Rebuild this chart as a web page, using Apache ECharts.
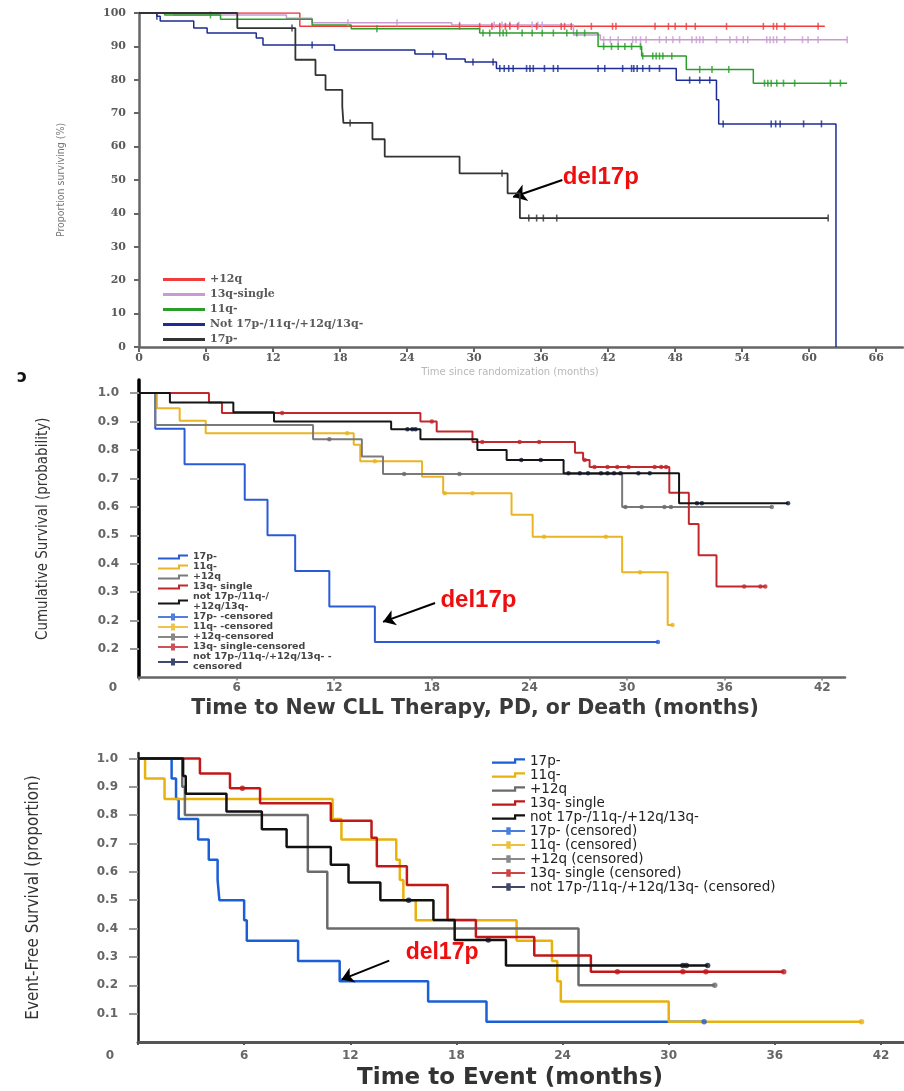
<!DOCTYPE html>
<html>
<head>
<meta charset="utf-8">
<script src="https://cdn.jsdelivr.net/npm/echarts@6/dist/echarts.min.js"></script>
<style>html,body{margin:0;padding:0;background:#fff}#c{width:904px;height:1091px}</style>
</head>
<body>
<div id="c"></div>
<script>
// ---------------- Panel A: overall survival (%) ----------------
const A_X_TICKS = [0, 6, 12, 18, 24, 30, 36, 42, 48, 54, 60, 66];
const A_Y_TICKS = [0, 10, 20, 30, 40, 50, 60, 70, 80, 90, 100];
const A_NAMES = ['+12q', '13q-single', '11q-', 'Not 17p-/11q-/+12q/13q-', '17p-'];
const A_12Q = [[0, 100], [14.4, 96], [61.4, 96]];
const A_13Q = [[0, 100], [3.1, 99.4], [13.2, 98.4], [15.5, 97.1], [28, 96.4], [38.9, 93.4], [41.3, 92], [63.4, 92]];
const A_11Q = [[0, 100], [2.3, 99.4], [7.3, 98.1], [15.5, 96.4], [19, 95.3], [30.5, 94], [41.1, 90], [45, 87.1], [49, 83.1], [55, 79], [63.4, 79]];
const A_NOT = [[0, 100], [1.6, 99], [1.9, 97.6], [4.9, 95.5], [6.1, 94], [10.5, 92.5], [11.1, 90.4], [17.5, 88.9], [24.7, 87.7], [27.5, 86.2], [29.2, 85.3], [32, 83.4], [48.1, 79.9], [51.7, 74], [51.9, 66.8], [62.4, 0]];
const A_17P = [[0, 100], [8.8, 95.5], [14, 86], [15.8, 81.4], [16.7, 77], [18.2, 72], [18.3, 67.1], [20.9, 62.2], [22, 57], [28.7, 52], [33, 46], [34.1, 38.6], [61.7, 38.6]];
const A_12Q_CENS = [28.7, 30.5, 31.6, 32.3, 32.8, 33.2, 33.9, 35.6, 37.8, 38.1, 38.7, 40.5, 42.4, 42.7, 46.2, 47.4, 48.0, 49.0, 49.8, 52.6, 55.9, 56.8, 57.1, 57.8, 60.8];
const A_13Q_CENS = [18.7, 23.1, 28.7, 31.8, 32.5, 33.2, 34.0, 35.2, 35.7, 36.1, 41.6, 42.2, 42.9, 44.2, 44.5, 44.9, 45.4, 46.6, 47.2, 47.8, 48.4, 49.5, 49.9, 50.2, 50.5, 51.7, 52.9, 53.5, 54.1, 54.5, 56.2, 56.5, 56.8, 57.1, 57.8, 59.4, 59.9, 60.8, 63.4];
const A_11Q_CENS = [6.4, 21.3, 30.8, 31.4, 32.3, 32.6, 32.9, 34.3, 35.2, 36.1, 37.1, 38.3, 39.2, 39.9, 41.6, 42.3, 42.9, 43.5, 44.1, 44.9, 45.1, 46.0, 46.3, 46.6, 46.9, 47.7, 50.2, 51.3, 52.8, 56.0, 56.3, 56.6, 57.1, 57.7, 58.7, 61.9, 62.8];
const A_NOT_CENS = [1.6, 15.5, 26.3, 29.9, 31.7, 32.3, 32.7, 33.1, 33.5, 34.7, 35.0, 35.3, 36.3, 37.1, 37.5, 41.1, 41.7, 43.3, 44.1, 44.3, 44.6, 45.1, 45.7, 46.6, 49.3, 50.2, 51.1, 52.3, 56.6, 57.0, 57.4, 59.5, 61.1];
const A_17P_CENS = [13.7, 18.9, 32.5, 34.9, 35.6, 36.2, 37.4, 61.7];
const A_ARROW = [[37.9, 50.0], [33.5, 44.9]];
const A_LABEL = [37.9, 50.9];

// ---------------- Panel B: cumulative survival ----------------
const B_X_TICKS = [0, 6, 12, 18, 24, 30, 36, 42];
const B_Y_TICKS = [0.1, 0.2, 0.3, 0.4, 0.5, 0.6, 0.7, 0.8, 0.9, 1.0];
const B_Y_LABELS = ['', '0.2', '0.2', '0.3', '0.4', '0.5', '0.6', '0.7', '0.8', '0.9', '1.0'];
const B_NAMES = ['17p-', '11q-', '+12q', '13q- single', 'not 17p-/11q-/\n+12q/13q-'];
const B_CENS_NAMES = ['17p- -censored', '11q- -censored', '+12q-censored', '13q- single-censored', 'not 17p-/11q-/+12q/13q- -\ncensored'];
const B_17P = [[0, 1], [1.0, 0.875], [2.8, 0.75], [6.5, 0.625], [7.9, 0.5], [9.6, 0.375], [11.7, 0.25], [14.5, 0.125], [31.9, 0.125]];
const B_11Q = [[0, 1], [1.1, 0.947], [2.5, 0.903], [4.1, 0.859], [13.2, 0.818], [13.6, 0.76], [17.4, 0.706], [18.7, 0.648], [22.9, 0.572], [24.2, 0.495], [29.7, 0.37], [32.5, 0.185], [32.8, 0.185]];
const B_12Q = [[0, 1], [1.0, 0.888], [10.7, 0.838], [13.7, 0.777], [15.0, 0.716], [29.7, 0.60], [38.9, 0.60]];
const B_13Q = [[0, 1], [4.3, 0.967], [5.1, 0.93], [17.3, 0.90], [18.3, 0.865], [20.5, 0.828], [26.8, 0.79], [27.3, 0.765], [27.7, 0.74], [32.6, 0.65], [33.8, 0.54], [34.4, 0.43], [35.5, 0.32], [38.5, 0.32]];
const B_NOT = [[0, 1], [1.9, 0.967], [5.8, 0.933], [8.3, 0.90], [15.5, 0.873], [17.3, 0.838], [20.8, 0.80], [22.6, 0.765], [26.1, 0.718], [33.2, 0.613], [39.9, 0.613]];
const B_17P_CENS = [31.9];
const B_11Q_CENS = [12.8, 14.5, 18.8, 20.5, 24.9, 28.7, 30.8, 32.8];
const B_12Q_CENS = [11.7, 16.3, 19.7, 29.9, 30.9, 32.3, 32.7, 38.9];
const B_13Q_CENS = [8.8, 18.0, 21.1, 23.4, 24.6, 27.4, 28.0, 28.8, 29.4, 30.1, 31.7, 32.1, 32.4, 37.2, 38.2, 38.5];
const B_NOT_CENS = [16.5, 16.8, 17.0, 23.5, 24.7, 26.4, 27.1, 27.6, 28.4, 28.8, 29.2, 29.6, 30.7, 31.4, 34.3, 34.6, 39.9];
const B_ARROW = [[18.2, 0.262], [15.0, 0.196]];
const B_LABEL = [18.5, 0.273];

// ---------------- Panel C: event-free survival ----------------
const C_X_TICKS = [0, 6, 12, 18, 24, 30, 36, 42];
const C_Y_TICKS = [0.1, 0.2, 0.3, 0.4, 0.5, 0.6, 0.7, 0.8, 0.9, 1.0];
const C_Y_LABELS = ['', '0.1', '0.2', '0.3', '0.4', '0.5', '0.6', '0.7', '0.8', '0.9', '1.0'];
const C_NAMES = ['17p-', '11q-', '+12q', '13q- single', 'not 17p-/11q-/+12q/13q-'];
const C_CENS_NAMES = ['17p- (censored)', '11q- (censored)', '+12q (censored)', '13q- single (censored)', 'not 17p-/11q-/+12q/13q- (censored)'];
const C_17P = [[0, 1], [1.9, 0.929], [2.15, 0.857], [2.3, 0.786], [3.4, 0.714], [4.0, 0.643], [4.5, 0.571], [4.6, 0.5], [6.0, 0.429], [6.15, 0.357], [9.05, 0.286], [11.4, 0.214], [16.4, 0.143], [19.7, 0.071], [32.0, 0.071]];
const C_11Q = [[0, 1], [0.4, 0.929], [1.5, 0.857], [11.0, 0.786], [11.5, 0.714], [14.6, 0.643], [14.8, 0.571], [15.0, 0.5], [15.7, 0.429], [21.4, 0.357], [23.4, 0.286], [23.7, 0.214], [23.9, 0.143], [30.0, 0.071], [40.9, 0.071]];
const C_12Q = [[0, 1], [2.5, 0.9], [2.65, 0.8], [9.6, 0.6], [10.7, 0.4], [24.9, 0.2], [32.6, 0.2]];
const C_13Q = [[0, 1], [3.5, 0.947], [5.2, 0.895], [6.9, 0.842], [10.9, 0.78], [13.2, 0.72], [13.5, 0.62], [15.2, 0.554], [17.5, 0.43], [19.1, 0.37], [22.4, 0.305], [25.6, 0.248], [36.5, 0.248]];
const C_NOT = [[0, 1], [2.55, 0.9375], [2.7, 0.875], [5.0, 0.8125], [7.0, 0.75], [8.4, 0.6875], [10.9, 0.625], [11.9, 0.5625], [13.7, 0.5], [16.7, 0.43], [17.9, 0.36], [20.8, 0.27], [32.2, 0.27]];
const C_17P_CENS = [32.0];
const C_11Q_CENS = [40.9];
const C_12Q_CENS = [32.6];
const C_13Q_CENS = [5.9, 27.1, 30.8, 32.1, 36.5];
const C_NOT_CENS = [15.3, 19.8, 30.8, 31.0, 32.2];
const C_ARROW = [[14.2, 0.287], [11.5, 0.22]];
const C_LABEL = [15.1, 0.314];

// ---------------- helpers ----------------
function survAt(steps, t) {
  let v = steps[0][1];
  for (const p of steps) { if (p[0] <= t) v = p[1]; }
  return v;
}
function curve(id, name, steps, color, width, axis, z) {
  return {
    id: id, name: name, type: 'line', step: 'end', data: steps, showSymbol: false, symbol: 'none',
    xAxisIndex: axis, yAxisIndex: axis, color: color, z: z || 2,
    lineStyle: { color: color, width: width }, itemStyle: { color: color },
    emphasis: { disabled: true }, silent: true, animation: false
  };
}
function cens(id, name, times, steps, color, symbol, size, axis) {
  return {
    id: id, name: name, type: 'scatter', data: times.map(t => [t, survAt(steps, t)]),
    xAxisIndex: axis, yAxisIndex: axis, symbol: symbol, symbolSize: size, color: color,
    itemStyle: { color: color }, z: 4, silent: true, animation: false, emphasis: { disabled: true }
  };
}
function annot(s, arrow, labelPos, fontSize, arrowSize) {
  s.markLine = {
    silent: true, animation: false, symbol: ['none', 'arrow'], symbolSize: arrowSize,
    lineStyle: { color: '#000', width: 2, type: 'solid' }, label: { show: false },
    data: [[{ coord: arrow[0] }, { coord: arrow[1] }]]
  };
  s.markPoint = {
    silent: true, animation: false, symbol: 'circle', symbolSize: 1, itemStyle: { color: 'rgba(0,0,0,0)' },
    label: { show: true, position: 'right', distance: 0, formatter: 'del17p', color: '#f00d0d',
             fontFamily: 'Liberation Sans, Arial, sans-serif', fontWeight: 'bold', fontSize: fontSize },
    data: [{ coord: labelPos }]
  };
  return s;
}
const strip = n => n.replace(/^[ABC]\|/, '');

const STEP_ICON = 'path://M0,4 L20,4 L20,1 L30,1 L30,3 L22,3 L22,6 L0,6 Z';
const CENS_ICON = 'path://M0,3 L30,3 L30,5 L0,5 Z M13,0.5 L17,0.5 L17,7.5 L13,7.5 Z';

// colours
const A_COL = ['#f03c3c', '#c99ad2', '#2a9d2a', '#1c2c94', '#333333'];
const B_COL = ['#2a5bd7', '#eab422', '#7a7a7a', '#c0282d', '#151515'];
const B_CCOL = ['#2a5bd7', '#eab422', '#6a6a6a', '#c0282d', '#0d1b4a'];
const C_COL = ['#1a5fd6', '#e8b10c', '#6b6b6b', '#c01818', '#111111'];
const C_CCOL = ['#1a5fd6', '#e8b10c', '#6b6b6b', '#c01818', '#101a40'];

const series = [];
// Panel A
const aSteps = [A_12Q, A_13Q, A_11Q, A_NOT, A_17P];
const aCens = [A_12Q_CENS, A_13Q_CENS, A_11Q_CENS, A_NOT_CENS, A_17P_CENS];
const aOrder = [3, 2, 1, 0, 4];
aOrder.forEach(i => {
  let s = curve('a' + i, 'A|' + A_NAMES[i], aSteps[i], A_COL[i], i === 4 ? 1.8 : 1.5, 0, 2 + i);
  if (i === 4) s = annot(s, A_ARROW, A_LABEL, 24, 13);
  series.push(s);
  series.push(cens('ac' + i, 'A|c' + i, aCens[i], aSteps[i], A_COL[i], 'rect', [1.6, 7], 0));
});
// Panel B
const bSteps = [B_17P, B_11Q, B_12Q, B_13Q, B_NOT];
const bCens = [B_17P_CENS, B_11Q_CENS, B_12Q_CENS, B_13Q_CENS, B_NOT_CENS];
[0, 1, 2, 3, 4].forEach(i => {
  let s = curve('b' + i, 'B|' + B_NAMES[i], bSteps[i], B_COL[i], 2, 1, 2 + i);
  if (i === 0) s = annot(s, B_ARROW, B_LABEL, 24, 12);
  series.push(s);
});
[0, 1, 2, 3, 4].forEach(i => {
  series.push(cens('bc' + i, 'B|' + B_CENS_NAMES[i], bCens[i], bSteps[i], B_CCOL[i], 'circle', 4.5, 1));
});
// Panel C
const cSteps = [C_17P, C_11Q, C_12Q, C_13Q, C_NOT];
const cCens = [C_17P_CENS, C_11Q_CENS, C_12Q_CENS, C_13Q_CENS, C_NOT_CENS];
[0, 1, 2, 3, 4].forEach(i => {
  let s = curve('c' + i, 'C|' + C_NAMES[i], cSteps[i], C_COL[i], 2.5, 2, 2 + i);
  if (i === 0) s = annot(s, C_ARROW, C_LABEL, 23, 12);
  series.push(s);
});
[0, 1, 2, 3, 4].forEach(i => {
  series.push(cens('cc' + i, 'C|' + C_CENS_NAMES[i], cCens[i], cSteps[i], C_CCOL[i], 'circle', 5.5, 2));
});

const serifLbl = { fontFamily: 'DejaVu Serif', fontWeight: 'bold', fontSize: 11, color: '#5a5a5a' };
const sansLbl = { fontFamily: 'DejaVu Sans', fontWeight: 'bold', fontSize: 12, color: '#666' };

const option = {
  animation: false,
  backgroundColor: '#fff',
  grid: [
    { left: 139, top: 13, width: 764, height: 334 },
    { left: 139, top: 380, width: 706, height: 297.6 },
    { left: 138, top: 753, width: 766, height: 289.3 }
  ],
  xAxis: [
    {
      type: 'value', gridIndex: 0, min: 0, max: 68.4,
      axisLine: { lineStyle: { color: '#666', width: 2.5 } },
      axisTick: { show: true, length: 5, lineStyle: { color: '#666', width: 2 }, customValues: A_X_TICKS },
      axisLabel: Object.assign({ customValues: A_X_TICKS, margin: 6 }, serifLbl),
      splitLine: { show: false },
      name: 'Time since randomization (months)', nameLocation: 'middle', nameGap: 20,
      nameTextStyle: { color: '#b8b8b8', fontSize: 10, fontFamily: 'DejaVu Sans', padding: [0, 22, 0, 0] }
    },
    {
      type: 'value', gridIndex: 1, min: 0, max: 43.4,
      axisLine: { lineStyle: { color: '#666', width: 2.5 } },
      axisTick: { show: true, length: 3, lineStyle: { color: '#777', width: 1.5 }, customValues: B_X_TICKS },
      axisLabel: Object.assign({
        customValues: B_X_TICKS, margin: 4,
        formatter: v => v === 0 ? '{o|0}' : String(v),
        rich: { o: { padding: [0, 52, 0, 0], fontFamily: 'DejaVu Sans', fontWeight: 'bold', fontSize: 12, color: '#666' } }
      }, sansLbl),
      splitLine: { show: false },
      name: 'Time to New CLL Therapy, PD, or Death (months)', nameLocation: 'middle', nameGap: 21,
      nameTextStyle: { color: '#3a3a3a', fontSize: 20.5, fontWeight: 'bold', fontFamily: 'DejaVu Sans', padding: [0, 34, 0, 0] }
    },
    {
      type: 'value', gridIndex: 2, min: 0, max: 43.3,
      axisLine: { lineStyle: { color: '#555', width: 3 } },
      axisTick: { show: true, length: 3, lineStyle: { color: '#555', width: 2 }, customValues: C_X_TICKS },
      axisLabel: Object.assign({
        customValues: C_X_TICKS, margin: 8,
        formatter: v => v === 0 ? '{o|0}' : String(v),
        rich: { o: { padding: [0, 56, 0, 0], fontFamily: 'DejaVu Sans', fontWeight: 'bold', fontSize: 12, color: '#666' } }
      }, sansLbl),
      splitLine: { show: false },
      name: 'Time to Event (months)', nameLocation: 'middle', nameGap: 25,
      nameTextStyle: { color: '#333', fontSize: 23, fontWeight: 'bold', fontFamily: 'DejaVu Sans', padding: [0, 22, 0, 0] }
    }
  ],
  yAxis: [
    {
      type: 'value', gridIndex: 0, min: 0, max: 100,
      axisLine: { show: true, lineStyle: { color: '#666', width: 2.5 } },
      axisTick: { show: true, length: 5, lineStyle: { color: '#666', width: 2 }, customValues: A_Y_TICKS },
      axisLabel: Object.assign({ customValues: A_Y_TICKS, margin: 13 }, serifLbl),
      splitLine: { show: false },
      name: 'Proportion surviving (%)', nameLocation: 'middle', nameGap: 72,
      nameTextStyle: { color: '#777', fontSize: 10.5, fontFamily: 'Liberation Sans Narrow, DejaVu Sans Condensed, sans-serif' }
    },
    {
      type: 'value', gridIndex: 1, min: 0, max: 1.046,
      axisLine: { show: true, lineStyle: { color: '#000', width: 3.5 } },
      axisTick: { show: true, length: 9, lineStyle: { color: '#999', width: 2 }, customValues: B_Y_TICKS },
      axisLabel: Object.assign({ customValues: B_Y_TICKS, margin: 20, formatter: v => B_Y_LABELS[Math.round(v * 10)] }, sansLbl),
      splitLine: { show: false },
      name: 'Cumulative Survival (probability)', nameLocation: 'middle', nameGap: 88,
      nameTextStyle: { color: '#333', fontSize: 15, fontFamily: 'Liberation Sans Narrow, DejaVu Sans Condensed, sans-serif' }
    },
    {
      type: 'value', gridIndex: 2, min: 0, max: 1.019,
      axisLine: { show: true, lineStyle: { color: '#222', width: 2.5 } },
      axisTick: { show: true, length: 9, lineStyle: { color: '#999', width: 2 }, customValues: C_Y_TICKS },
      axisLabel: Object.assign({ customValues: C_Y_TICKS, margin: 20, formatter: v => C_Y_LABELS[Math.round(v * 10)] }, sansLbl),
      splitLine: { show: false },
      name: 'Event-Free Survival (proportion)', nameLocation: 'middle', nameGap: 96,
      nameTextStyle: { color: '#333', fontSize: 17, fontFamily: 'Liberation Sans Narrow, DejaVu Sans Condensed, sans-serif' }
    }
  ],
  legend: [
    {
      orient: 'vertical', left: 158, top: 268, itemWidth: 42, itemHeight: 3, itemGap: 2, icon: 'rect',
      data: A_NAMES.map(n => 'A|' + n), formatter: strip, selectedMode: false,
      textStyle: { fontFamily: 'DejaVu Serif', fontWeight: 'bold', fontSize: 11, color: '#5a5a5a', lineHeight: 13 }
    },
    {
      orient: 'vertical', left: 153, top: 547, itemWidth: 30, itemHeight: 7, itemGap: 0,
      data: B_NAMES.map(n => ({ name: 'B|' + n, icon: STEP_ICON })).concat(B_CENS_NAMES.map(n => ({ name: 'B|' + n, icon: CENS_ICON }))),
      formatter: strip, selectedMode: false,
      textStyle: { fontFamily: 'DejaVu Sans', fontWeight: 'bold', fontSize: 9.5, color: '#444', lineHeight: 10 }
    },
    {
      orient: 'vertical', left: 487, top: 749, itemWidth: 33, itemHeight: 8, itemGap: 0,
      data: C_NAMES.map(n => ({ name: 'C|' + n, icon: STEP_ICON })).concat(C_CENS_NAMES.map(n => ({ name: 'C|' + n, icon: CENS_ICON }))),
      formatter: strip, selectedMode: false,
      textStyle: { fontFamily: 'DejaVu Sans', fontSize: 13.5, color: '#222', lineHeight: 12.8 }
    }
  ],
  graphic: [
    { type: 'text', left: 17, top: 369, style: { text: 'ɔ', font: 'bold 17px DejaVu Sans', fill: '#111' } }
  ],
  series: series
};

const chart = echarts.init(document.getElementById('c'), null, { renderer: 'canvas' });
chart.setOption(option);
</script>
</body>
</html>
